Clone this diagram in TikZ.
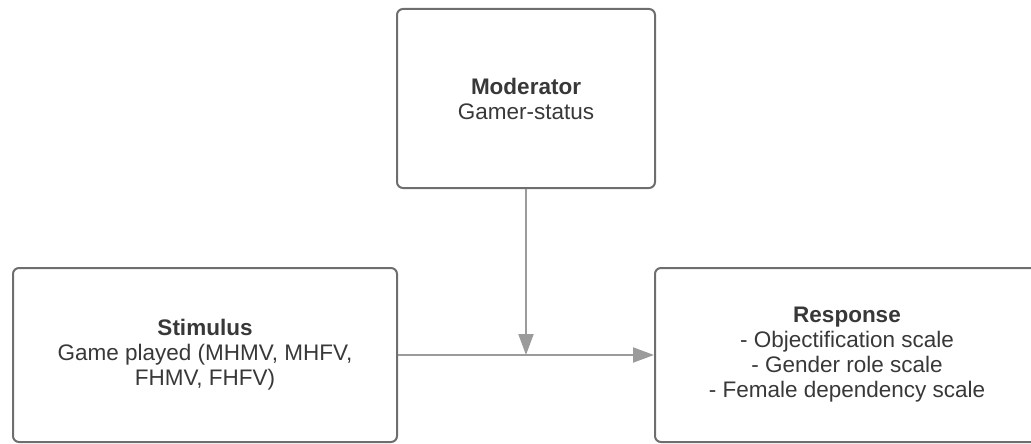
\documentclass[tikz,border=0pt]{standalone}
\usepackage{fontspec}
\setmainfont{Liberation Sans}
\usetikzlibrary{arrows.meta}
\definecolor{boxgray}{HTML}{6E6E6E}
\definecolor{linegray}{HTML}{9B9B9B}
\definecolor{textgray}{HTML}{383838}

\begin{document}
\begin{tikzpicture}[x=1pt, y=-1pt,
  box/.style={draw=boxgray, line width=2pt, rounded corners=6pt, align=center, text=textgray, font=\fontsize{22.5}{25}\selectfont, inner sep=0pt},
  link/.style={draw=linegray, line width=2pt, -{Triangle[length=21pt, width=15pt]}}]
\useasboundingbox (0,0) rectangle (1031,444);
\node[box, minimum width=258pt, minimum height=179pt] (moderator) at (526,98.5) {\textbf{Moderator}\\Gamer-status};
\node[box, minimum width=384pt, minimum height=174pt] (stimulus) at (205,355) {\textbf{Stimulus}\\Game played (MHMV, MHFV,\\FHMV, FHFV)};
\node[box, minimum width=384pt, minimum height=174pt] (response) at (847,355) {\textbf{Response}\\- Objectification scale\\- Gender role scale\\- Female dependency scale};
\coordinate (join) at (moderator.south |- stimulus.east);
\draw[link] (stimulus.east) -- (response.west);
\draw[link] (moderator.south) -- (join);
\end{tikzpicture}
\end{document}
